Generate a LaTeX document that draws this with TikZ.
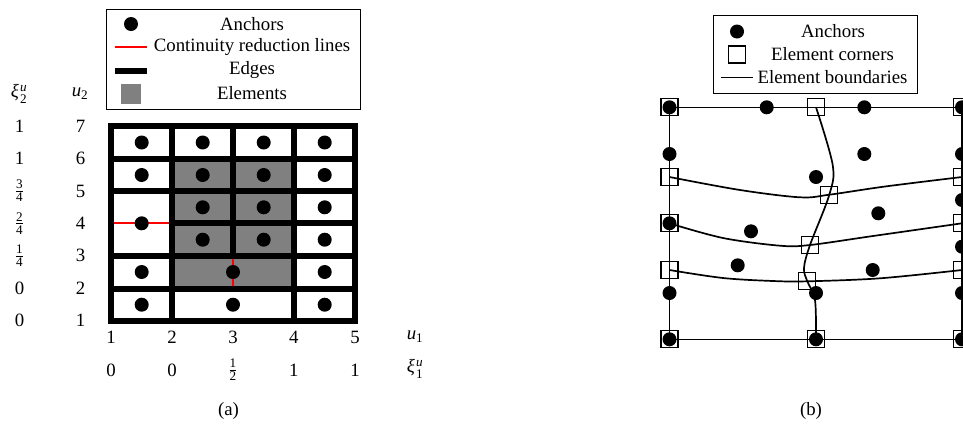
\documentclass[tikz,border=0pt]{standalone}
\usepackage{amsmath}
\usepackage{fontspec}
\setmainfont{Liberation Serif}
\newcommand{\xiu}[1]{\textit{ξ}\kern1.2pt$^{\textit{u}}_{\text{#1}}$}
\newcommand{\fr}[2]{$\tfrac{\text{#1}}{\text{#2}}$}
\tikzset{
  anchordot/.style={circle,fill=black,draw=none,minimum size=14pt,inner sep=0pt},
  cornerbox/.style={rectangle,draw=black,line width=1.2pt,minimum size=17pt,inner sep=0pt},
  edgeline/.style={line width=6pt,black,line cap=butt},
  redline/.style={line width=1.7pt,red},
  boundary/.style={line width=1.7pt,black},
  frameline/.style={line width=1.5pt,black},
  legendbox/.style={draw=black,line width=0.9pt},
  lab/.style={inner sep=0pt,font=\fontsize{18.8}{21}\selectfont},
  elemfill/.style={fill=black!50,draw=none}
}
\begin{document}
\begin{tikzpicture}[x=1pt,y=-1pt,every node/.append style={anchor=center}]
\useasboundingbox (0,0) rectangle (963,424);
\begin{scope}
\clip (0,0) rectangle (963,424);
% ---------- (a) legend
\node[legendbox,minimum width=253.5pt,minimum height=100pt,inner sep=0pt] (lega) at (233.3,59) {};
\node[anchordot] (la1) at (131,24) {};
\node[lab] (lta1) at (252,24) {Anchors};
\coordinate (lr1) at (115,47.3); \coordinate (lr2) at (147,47.3);
\draw[redline] (lr1) -- (lr2);
\node[lab] (lta2) at (252,47) {Continuity reduction lines};
\coordinate (le1) at (115,70.5); \coordinate (le2) at (147,70.5);
\draw[edgeline] (le1) -- (le2);
\node[lab] (lta3) at (252,70) {Edges};
\node[rectangle,elemfill,minimum size=20pt,inner sep=0pt] (lsq) at (131,94) {};
\node[lab] (lta4) at (252,93) {Elements};
% ---------- (a) grid
\foreach \n/\x in {1/111,2/172,3/233,4/293.7,5/355} {
  \foreach \m/\y in {1/320.7,2/288.7,3/255.7,4/223.3,5/191,6/158.7,7/126} {
    \coordinate (g\n\m) at (\x,\y);
  }
}
\fill[black!50] (g26) rectangle (g42);
\draw[redline] (g14) -- (g24);
\draw[redline] (g33) -- (g32);
\draw[edgeline,line cap=rect] (g11) -- (g51);
\draw[edgeline,line cap=rect] (g12) -- (g52);
\draw[edgeline,line cap=rect] (g13) -- (g53);
\draw[edgeline] (g24) -- (g54);
\draw[edgeline,line cap=rect] (g15) -- (g55);
\draw[edgeline,line cap=rect] (g16) -- (g56);
\draw[edgeline,line cap=rect] (g17) -- (g57);
\draw[edgeline,line cap=rect] (g11) -- (g17);
\draw[edgeline,line cap=rect] (g21) -- (g27);
\draw[edgeline] (g33) -- (g37);
\draw[edgeline,line cap=rect] (g41) -- (g47);
\draw[edgeline,line cap=rect] (g51) -- (g57);
% anchors (a)
\foreach \i/\x/\y in {a/141.7/142.5,b/141.7/175,c/141.7/223.3,d/141.7/272,e/141.7/304.7,
  f/202.7/142.5,g/202.7/175,h/202.7/207.3,i/202.7/239.7,
  j/263.7/142.5,k/263.7/175,l/263.7/207.3,m/263.7/239.7,
  n/233/272,o/233/304.7,
  p/324.7/142.5,q/324.7/175,r/324.7/207.3,s/324.7/239.7,t/324.7/272,u/324.7/304.7}
  \node[anchordot] (aa\i) at (\x,\y) {};
% axis labels (a)
\node[lab] (xh) at (19,94) {\xiu{2}};
\node[lab] (uh) at (80,94) {\textit{u}$_{\text{2}}$};
\foreach \i/\y/\t/\u in {7/126/1/7,6/158.7/1/6,5/191/\fr{3}{4}/5,4/223.3/\fr{2}{4}/4,3/255.7/\fr{1}{4}/3,2/288.7/0/2,1/320.7/0/1} {
  \node[lab] (xl\i) at (19.5,\y) {\t};
  \node[lab] (ul\i) at (80.5,\y) {\u};
}
\foreach \i/\x/\t/\u in {1/111/1/0,2/172/2/0,3/233/3/\fr{1}{2},4/293.7/4/1,5/355/5/1} {
  \node[lab] (bx\i) at (\x,337.5) {\t};
  \node[lab] (bu\i) at (\x,370) {\u};
}
\node[lab] (u1) at (415,337) {\textit{u}$_{\text{1}}$};
\node[lab] (x1) at (415,369) {\xiu{1}};
\node[lab] (capa) at (228.5,411) {(a)};
% ---------- (b) legend
\node[legendbox,minimum width=203.5pt,minimum height=77.5pt,inner sep=0pt] (legb) at (815.5,54.5) {};
\node[anchordot] (lb1) at (737,31.5) {};
\node[lab] (ltb1) at (833,31) {Anchors};
\node[cornerbox] (lb2) at (737,54.5) {};
\node[lab] (ltb2) at (832.5,54) {Element corners};
\coordinate (lb3) at (721,77.5); \coordinate (lb4) at (753,77.5);
\draw[boundary] (lb3) -- (lb4);
\node[lab] (ltb3) at (832.5,77) {Element boundaries};
% ---------- (b) corners
\foreach \i/\x/\y in {tl/669.5/107.3,tm/816/107.3,tr/962/107.3,
  al/669.5/177,am/829.3/194.7,ar/962/177,
  bl/669.5/223.3,bm/810/245,br/962/223.3,
  cl/669.5/270,cm/807.3/281.3,cr/962/270,
  dl/669.5/339.3,dm/816/339.3,dr/962/339.3}
  \node[cornerbox] (c\i) at (\x,\y) {};
% boundaries
\draw[frameline] (ctl.center) -- (ctm.center) -- (ctr.center) -- (cdr.center) -- (cdm.center) -- (cdl.center) -- cycle;
\draw[boundary] plot[smooth,tension=0.55] coordinates {(cal.center) (740,190) (800,197.3) (cam.center) (885,186.5) (car.center)};
\draw[boundary] plot[smooth,tension=0.55] coordinates {(cbl.center) (723,238) (780,245.7) (cbm.center) (873,236) (cbr.center)};
\draw[boundary] plot[smooth,tension=0.55] coordinates {(ccl.center) (723,278) (773,281) (ccm.center) (880,278.3) (ccr.center)};
\draw[boundary] plot[smooth,tension=0.55] coordinates {(ctm.center) (832.7,165) (cam.center) (cbm.center) (804,268) (ccm.center) (815,300) (cdm.center)};
% anchors (b)
\foreach \i/\x/\y in {a/669.5/107.3,b/766.7/107.3,c/864.3/107.3,d/962/107.3,
  e/669.5/154,f/864.3/154,g/962/154,h/816/177,i/962/200,j/878.3/213.3,
  k/669.5/223.3,l/751/231.3,m/962/246.7,n/737.7/265.3,o/872.7/270,
  p/669.5/293,q/816/293,r/962/293,s/669.5/339.3,t/816/339.3,u/962/339.3}
  \node[anchordot] (ab\i) at (\x,\y) {};
\node[lab] (capb) at (811,411) {(b)};
\end{scope}
\end{tikzpicture}
\end{document}
